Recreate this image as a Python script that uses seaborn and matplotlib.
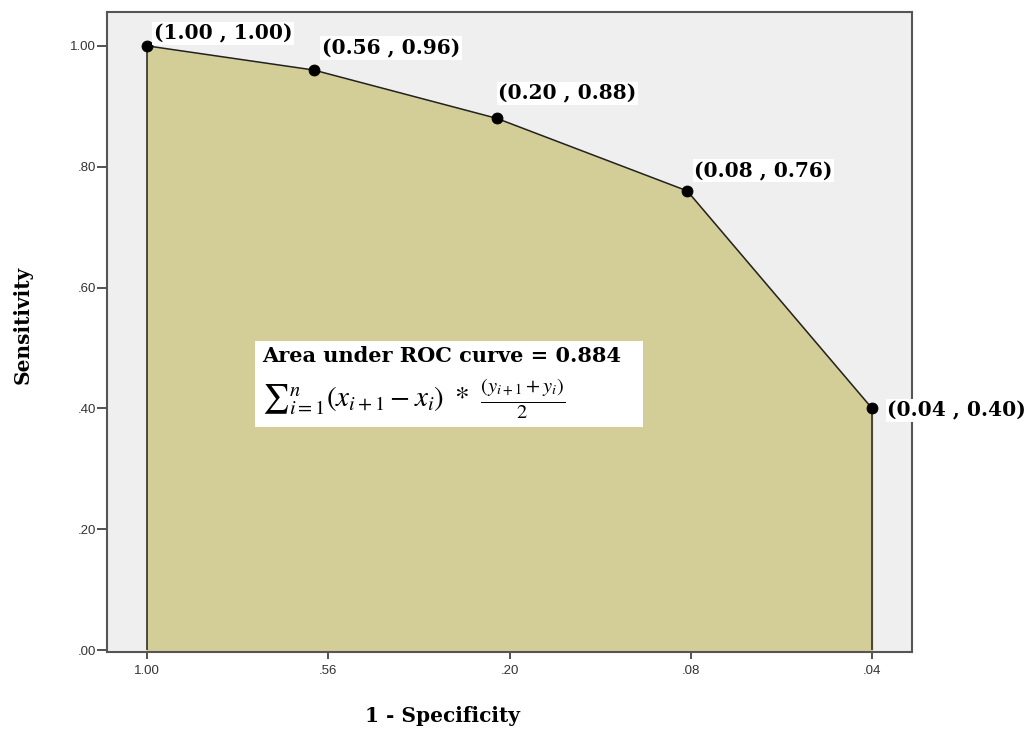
import matplotlib
matplotlib.use("Agg")
import matplotlib.pyplot as plt
import seaborn as sns
import pandas as pd
from matplotlib.patches import Rectangle

# ---- data ----
fpr_labels = ["1.00", ".56", ".20", ".08", ".04"]          # x tick labels
x_pos = [0.0, 0.92, 1.93, 2.98, 4.0]                      # point positions along the axis
sensitivity = [1.00, 0.96, 0.88, 0.76, 0.40]
point_labels = ["(1.00 , 1.00)", "(0.56 , 0.96)", "(0.20 , 0.88)",
                "(0.08 , 0.76)", "(0.04 , 0.40)"]
y_ticks = [0.0, 0.2, 0.4, 0.6, 0.8, 1.0]
y_ticklabels = [".00", ".20", ".40", ".60", ".80", "1.00"]

df = pd.DataFrame({"x": x_pos, "y": sensitivity})

sns.set_style("white")
plt.rcParams["mathtext.fontset"] = "stix"
plt.rcParams["text.color"] = "black"

SERIF = "DejaVu Serif"

fig = plt.figure(figsize=(10.35, 7.31), dpi=100)
ax = fig.add_axes([107 / 1035, 79 / 731, 805 / 1035, 640 / 731])
ax.set_facecolor("#EFEFEF")

# filled area
ax.fill_between(df["x"], df["y"], 0, color="#D3CD98", zorder=1)
sns.lineplot(data=df, x="x", y="y", ax=ax, color="#222222", lw=1.1, zorder=3, sort=False)
ax.vlines([df["x"].iloc[0], df["x"].iloc[-1]], 0, [df["y"].iloc[0], df["y"].iloc[-1]],
          color="#222222", lw=1.1, zorder=3)
sns.scatterplot(data=df, x="x", y="y", ax=ax, color="black", s=62, edgecolor="black",
                zorder=4, legend=False)

# point labels
offsets = [(5, 9.0), (6, 15.8), (1, 18.0), (5, 14.4), (11, -1.5)]
for xi, yi, lab, off in zip(df["x"], df["y"], point_labels, offsets):
    ax.annotate(lab, (xi, yi), xytext=off, textcoords="offset points",
                ha="left", va="center", fontsize=14.5, fontweight="bold",
                family=SERIF, color="black", zorder=6,
                bbox=dict(boxstyle="square,pad=0.08", fc="white", ec="none"))

# AUC box
ax.add_patch(Rectangle((0.596, 0.369), 2.737 - 0.596, 0.512 - 0.369,
                       facecolor="white", edgecolor="none", zorder=5))
ax.text(0.635, 0.486, "Area under ROC curve = 0.884", ha="left", va="center",
        fontsize=15, fontweight="bold", family=SERIF, color="black", zorder=6)
ax.text(0.635, 0.4165,
        r"${\sum}_{i=1}^{n}(x_{i+1}-x_i)\ *\ \frac{(y_{i+1}+y_i)}{2}$",
        ha="left", va="center", fontsize=21, color="black", zorder=6)

ax.set_xlim(-0.22, 4.22)
ax.set_ylim(-0.003, 1.056)
ax.set_xticks(range(len(fpr_labels)))
ax.set_xticklabels(fpr_labels)
ax.set_yticks(y_ticks)
ax.set_yticklabels(y_ticklabels)
ax.tick_params(axis="both", bottom=True, left=True, direction="out", width=1.3,
               color="#444444", labelsize=9.5, labelcolor="#333333")
ax.tick_params(axis="x", length=5, pad=4)
ax.tick_params(axis="y", length=7, pad=1)
for lab in ax.get_xticklabels() + ax.get_yticklabels():
    lab.set_family("Liberation Sans")
for sp in ax.spines.values():
    sp.set_visible(True)
    sp.set_color("#555555")
    sp.set_linewidth(1.5)

ax.set_xlabel("1 - Specificity", fontsize=14.5, fontweight="bold", family=SERIF,
              color="black")
ax.set_ylabel("Sensitivity", fontsize=14.5, fontweight="bold", family=SERIF,
              color="black")
ax.xaxis.set_label_coords(0.417, -0.085)
ax.yaxis.set_label_coords(-0.092, 0.511)

fig.savefig("out.png", dpi=100, facecolor="white")
